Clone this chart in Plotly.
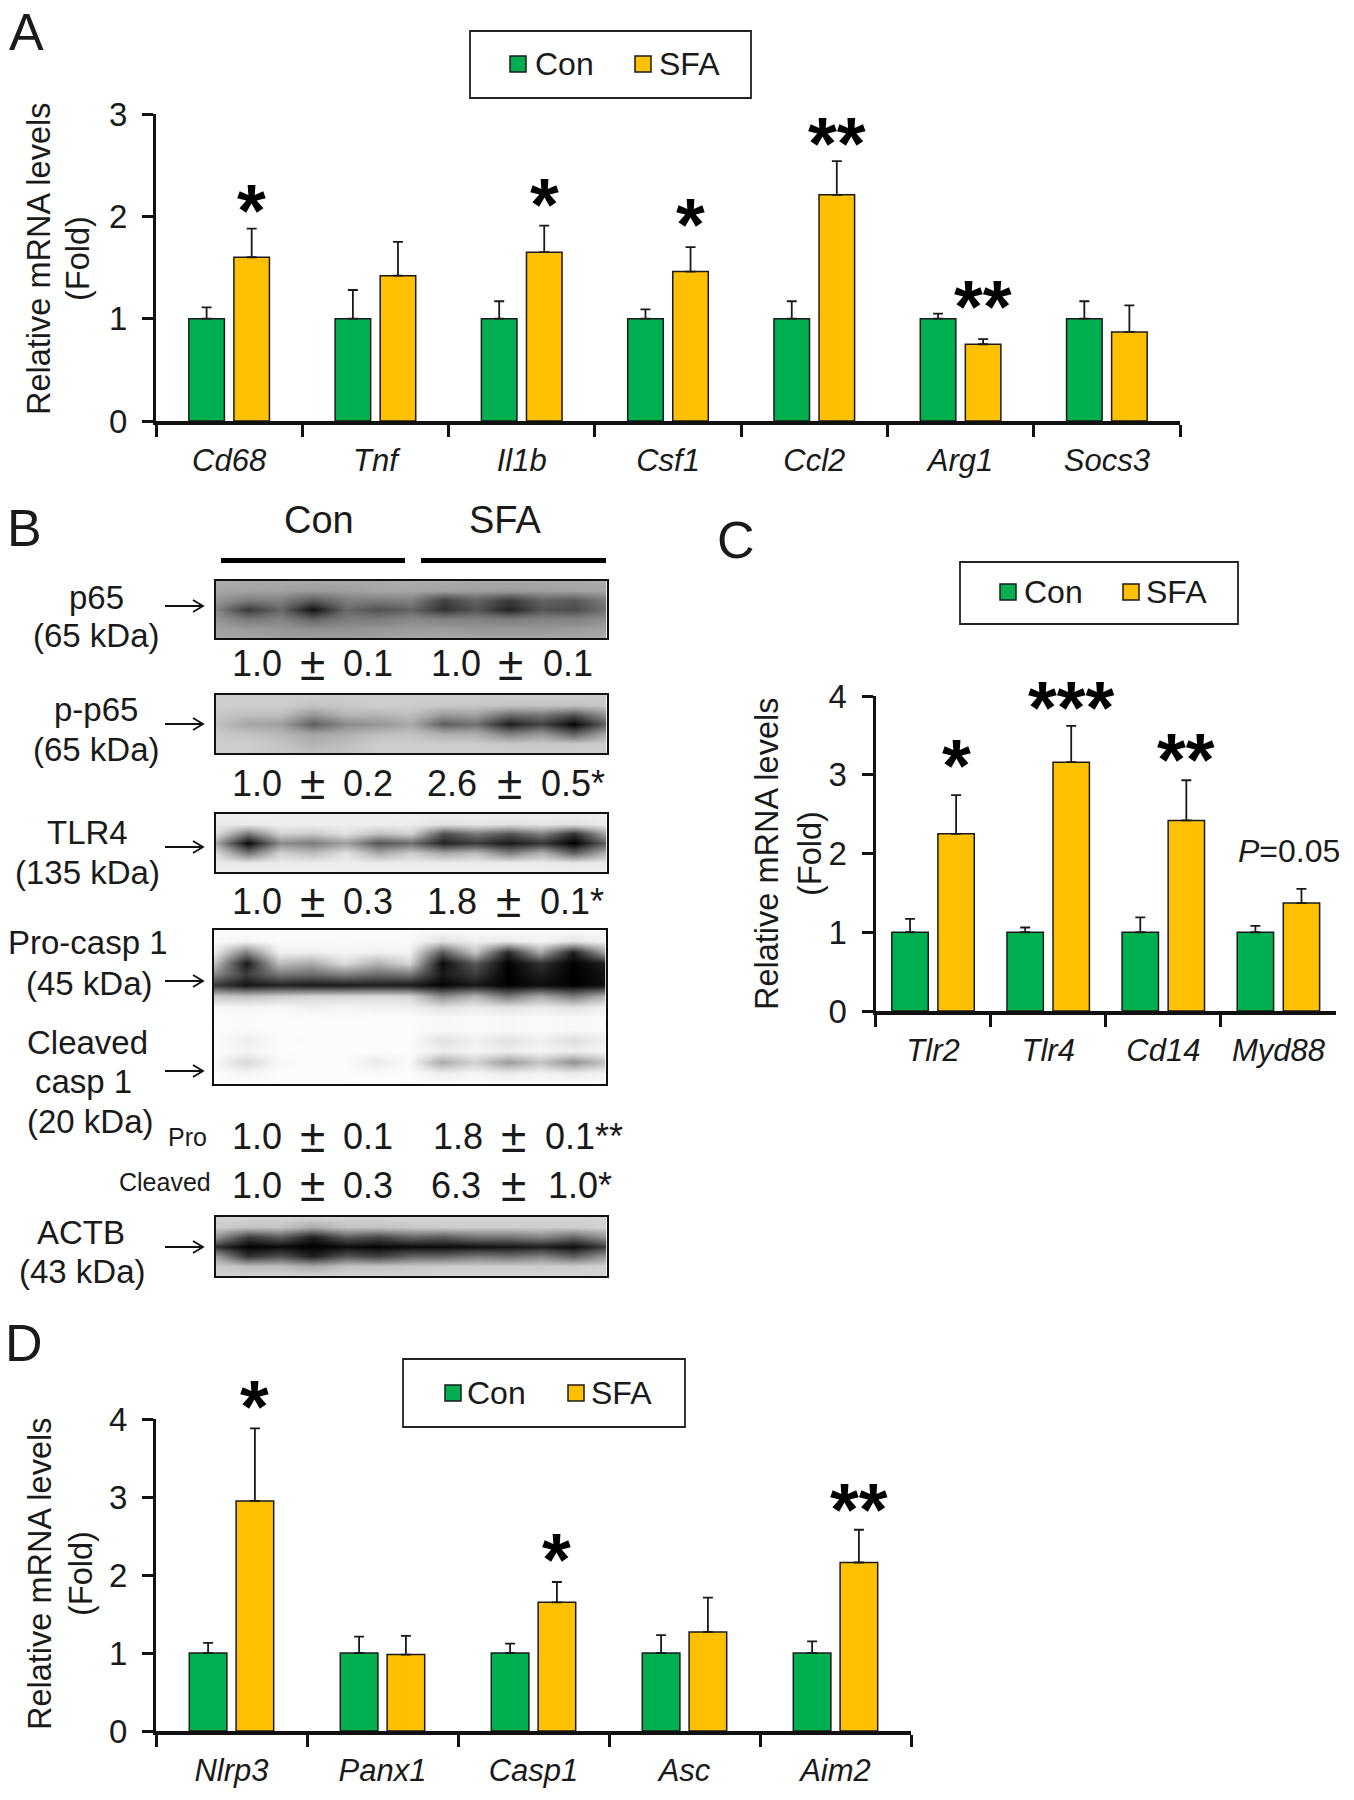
import plotly.graph_objects as go

W, H = 1354, 1800
FONT = "Liberation Sans"
TXT = "#1a1a1a"
GREEN, GOLD = "#00B050", "#FFC000"

# ---------- Panel A ----------
A_genes = ["Cd68", "Tnf", "Il1b", "Csf1", "Ccl2", "Arg1", "Socs3"]
A_con = [1, 1, 1, 1, 1, 1, 1]
A_sfa = [1.60, 1.42, 1.65, 1.46, 2.21, 0.75, 0.87]
A_con_err = [0.11, 0.28, 0.17, 0.09, 0.17, 0.05, 0.17]
A_sfa_err = [0.28, 0.33, 0.26, 0.24, 0.33, 0.05, 0.26]
A_sig = ["*", "", "*", "*", "**", "**", ""]
A_sig_y = [2.16, 0, 2.22, 2.03, 2.82, 1.23, 0]

# ---------- Panel C ----------
C_genes = ["Tlr2", "Tlr4", "Cd14", "Myd88"]
C_con = [1, 1, 1, 1]
C_sfa = [2.25, 3.16, 2.42, 1.37]
C_con_err = [0.17, 0.06, 0.19, 0.08]
C_sfa_err = [0.49, 0.46, 0.51, 0.18]
C_sig = ["*", "***", "**", ""]
C_sig_y = [3.26, 4.0, 3.33, 0]

# ---------- Panel D ----------
D_genes = ["Nlrp3", "Panx1", "Casp1", "Asc", "Aim2"]
D_con = [1, 1, 1, 1, 1]
D_sfa = [2.95, 0.98, 1.65, 1.27, 2.16]
D_con_err = [0.13, 0.21, 0.12, 0.23, 0.15]
D_sfa_err = [0.93, 0.24, 0.26, 0.44, 0.42]
D_sig = ["*", "", "*", "", "**"]
D_sig_y = [4.30, 0, 2.34, 0, 2.98]

# ---------- Panel B: blot grey levels (13 columns = 6 lanes + gaps) ----------
BLOT_P65 = [
    [172, 170, 170, 168, 168, 170, 172, 172, 170, 170, 170, 170, 172],
    [165, 162, 160, 155, 158, 165, 165, 160, 158, 155, 158, 162, 165],
    [150, 125, 130, 90, 125, 125, 130, 65, 100, 60, 100, 90, 125],
    [135, 55, 105, 15, 105, 80, 100, 50, 85, 35, 85, 75, 115],
    [150, 120, 130, 100, 125, 125, 135, 130, 130, 125, 130, 130, 140],
    [160, 155, 150, 145, 145, 150, 155, 155, 150, 150, 150, 155, 160],
    [168, 165, 160, 158, 158, 160, 165, 168, 165, 165, 165, 168, 170],
]
BLOT_PP65 = [
    [205, 205, 205, 205, 205, 205, 205, 205, 205, 205, 205, 205, 205],
    [205, 205, 205, 195, 200, 205, 205, 200, 200, 195, 195, 195, 200],
    [200, 190, 190, 150, 180, 180, 190, 155, 160, 110, 120, 85, 150],
    [195, 165, 160, 95, 140, 150, 170, 95, 115, 30, 70, 5, 100],
    [200, 195, 185, 165, 175, 190, 195, 175, 175, 130, 155, 100, 170],
    [205, 205, 195, 180, 190, 205, 205, 205, 205, 200, 200, 200, 205],
    [205, 205, 200, 190, 195, 205, 205, 205, 205, 205, 205, 205, 205],
]
BLOT_TLR4 = [
    [238, 238, 238, 238, 238, 238, 238, 238, 238, 238, 238, 238, 238],
    [235, 235, 238, 238, 238, 238, 236, 225, 230, 225, 230, 225, 235],
    [225, 120, 210, 200, 225, 190, 210, 80, 120, 85, 130, 50, 170],
    [170, 10, 140, 125, 160, 85, 110, 35, 60, 25, 55, 0, 100],
    [220, 120, 210, 190, 225, 170, 205, 170, 190, 130, 180, 100, 180],
    [235, 230, 235, 235, 238, 235, 235, 235, 235, 235, 235, 230, 235],
    [238, 238, 238, 238, 238, 238, 238, 238, 238, 238, 238, 238, 238],
]
BLOT_CASP = [
    [250, 250, 250, 250, 250, 250, 250, 250, 250, 250, 250, 250, 250],
    [250, 245, 250, 250, 250, 250, 250, 225, 240, 235, 245, 230, 245],
    [240, 130, 240, 240, 245, 240, 245, 90, 200, 40, 170, 30, 170],
    [200, 25, 190, 170, 220, 180, 215, 10, 90, 0, 50, 0, 30],
    [140, 60, 120, 110, 130, 110, 120, 25, 60, 0, 30, 0, 20],
    [60, 20, 35, 25, 25, 30, 25, 5, 25, 0, 15, 0, 15],
    [200, 195, 205, 215, 215, 220, 215, 140, 180, 120, 170, 125, 180],
    [248, 245, 248, 240, 245, 240, 240, 225, 235, 225, 235, 225, 240],
    [252, 250, 252, 252, 252, 252, 252, 248, 250, 248, 250, 248, 250],
    [252, 250, 252, 252, 252, 252, 252, 248, 250, 248, 250, 248, 250],
    [252, 238, 250, 252, 252, 252, 252, 225, 240, 225, 240, 222, 240],
    [252, 245, 252, 252, 252, 252, 252, 238, 245, 238, 245, 238, 245],
    [250, 215, 248, 252, 252, 235, 250, 170, 210, 155, 195, 145, 195],
    [252, 245, 252, 252, 252, 250, 252, 238, 245, 235, 242, 235, 245],
    [253, 253, 253, 253, 253, 253, 253, 253, 253, 253, 253, 253, 253],
]
BLOT_ACTB = [
    [212, 212, 212, 212, 212, 212, 212, 212, 212, 212, 212, 212, 212],
    [205, 195, 195, 170, 195, 195, 200, 205, 205, 205, 205, 205, 210],
    [150, 60, 90, 30, 90, 70, 100, 90, 115, 115, 130, 100, 150],
    [50, 0, 10, 0, 10, 5, 10, 10, 15, 20, 30, 12, 60],
    [160, 50, 80, 30, 85, 65, 100, 100, 120, 110, 130, 95, 150],
    [205, 190, 190, 170, 195, 195, 200, 205, 205, 205, 205, 205, 210],
    [212, 212, 212, 212, 212, 212, 212, 212, 212, 212, 212, 212, 212],
]

B_rows = [
    ["1.0", "0.1", "1.0", "0.1"],
    ["1.0", "0.2", "2.6", "0.5*"],
    ["1.0", "0.3", "1.8", "0.1*"],
    ["1.0", "0.1", "1.8", "0.1**"],
    ["1.0", "0.3", "6.3", "1.0*"],
]
B_row_px = [664, 783, 901, 1136, 1185]
B_sfa_mean_px = [456, 452, 452, 458, 456]
B_sfa_pm_px = [511, 509, 508, 513, 513]
B_sfa_err_px = [541, 539, 538, 543, 546]
B_labels = ["p65", "(65 kDa)", "p-p65", "(65 kDa)", "TLR4", "(135 kDa)", "Pro-casp 1",
            "(45 kDa)", "Cleaved", "casp 1", "(20 kDa)", "ACTB", "(43 kDa)"]
B_label_x = [96, 96, 96, 96, 87, 87, 88, 89, 87, 83, 90, 81, 82]
B_label_y = [597, 636, 710, 749, 833, 872, 943, 983, 1042, 1081, 1121, 1232, 1271]
B_arrow_y = [606, 724, 847, 981, 1071, 1247]


def X(p):
    return p / W


def Y(p):
    return 1 - p / H


fig = go.Figure()
annots, shapes = [], []


def text(s, x, y, size=31, **kw):
    annots.append(dict(text=s, x=X(x), y=Y(y), xref="paper", yref="paper", showarrow=False,
                       font=dict(family=FONT, size=size, color=TXT),
                       xanchor=kw.pop("xanchor", "center"), yanchor="middle", **kw))


def bar_panel(idx, genes, con, sfa, con_err, sfa_err, sig, sig_y, xdom, ydom, ymax,
              bar_w, sep, title_px):
    sx = "" if idx == 1 else str(idx)
    xa, ya = "x" + sx, "y" + sx
    series = [("Con", con, con_err, GREEN, -sep), ("SFA", sfa, sfa_err, GOLD, sep)]
    for name, vals, errs, col, centre in series:
        fig.add_trace(go.Bar(
            name=name, x=genes, y=vals, xaxis=xa, yaxis=ya, showlegend=False,
            width=bar_w, offset=centre - bar_w / 2,
            marker=dict(color=col, line=dict(color="#1a1a1a", width=1.5)),
            error_y=dict(type="data", symmetric=False, array=errs, arrayminus=[0] * len(errs),
                         color="#1a1a1a", thickness=1.8, width=5),
        ))
    fig.layout["xaxis" + sx] = dict(
        domain=[X(xdom[0]), X(xdom[1])], anchor=ya, type="category", categoryorder="array",
        categoryarray=genes, range=[-0.5, len(genes) - 0.5], tickson="boundaries", ticks="outside",
        ticklen=12, tickwidth=2.5, tickcolor="#111", showline=True, linecolor="#111", linewidth=4,
        showgrid=False, zeroline=False,
        tickfont=dict(family=FONT, size=31, color=TXT, style="italic"), ticklabelstandoff=9)
    fig.layout["yaxis" + sx] = dict(
        domain=[Y(ydom[1]), Y(ydom[0])], anchor=xa, range=[0, ymax], tickmode="array",
        tickvals=list(range(ymax + 1)), ticks="outside", ticklen=11, tickwidth=3, tickcolor="#111",
        showline=True, linecolor="#111", linewidth=3, showgrid=False, zeroline=False,
        tickfont=dict(family=FONT, size=33, color=TXT), ticklabelstandoff=8)
    for i, (s, yv) in enumerate(zip(sig, sig_y)):
        if s:
            annots.append(dict(text="<b>" + s + "</b>", x=i + sep, xref=xa,
                               y=Y(ydom[1] - yv / ymax * (ydom[1] - ydom[0])), yref="paper",
                               showarrow=False, yanchor="middle", yshift=-11,
                               font=dict(family=FONT, size=74, color="#000")))
    text("Relative mRNA levels", title_px[0], title_px[2], size=32.5, textangle=-90)
    text("(Fold)", title_px[1], title_px[2], size=32.5, textangle=-90)


def legend_box(x0, x1, y0, y1, ym, con_sw, con_txt, sfa_sw, sfa_txt):
    shapes.append(dict(type="rect", xref="paper", yref="paper", x0=X(x0), x1=X(x1), y0=Y(y0), y1=Y(y1),
                       line=dict(color="#222", width=1.8), fillcolor="rgba(0,0,0,0)"))
    for name, col, sw, tx in [("Con", GREEN, con_sw, con_txt), ("SFA", GOLD, sfa_sw, sfa_txt)]:
        shapes.append(dict(type="rect", xref="paper", yref="paper", x0=X(sw - 8), x1=X(sw + 8),
                           y0=Y(ym - 8), y1=Y(ym + 8), fillcolor=col, line=dict(color="#1a1a1a", width=1.5)))
        text(name, tx, ym, size=32, xanchor="left")


bar_panel(1, A_genes, A_con, A_sfa, A_con_err, A_sfa_err, A_sig, A_sig_y, (156, 1180), (114, 421), 3,
          0.243, 0.154, (39, 78, 259))
bar_panel(2, C_genes, C_con, C_sfa, C_con_err, C_sfa_err, C_sig, C_sig_y, (875.5, 1336), (696, 1011), 4,
          0.316, 0.2, (767, 810, 854))
bar_panel(3, D_genes, D_con, D_sfa, D_con_err, D_sfa_err, D_sig, D_sig_y, (156, 911), (1419, 1731), 4,
          0.249, 0.155, (40, 81, 1574))

legend_box(470, 751, 31, 98, 64, 518, 533, 643, 657)
legend_box(960, 1238, 562, 624, 592, 1008, 1022, 1131, 1144)
legend_box(403, 685, 1359, 1427, 1393, 453, 465, 576, 589)

# P value label over Myd88
annots.append(dict(text="<i>P</i>=0.05", x=3.09, y=2.03, xref="x2", yref="y2", showarrow=False, yanchor="middle",
                   font=dict(family=FONT, size=32, color=TXT)))


# ---------- Panel B blots ----------
def blot(idx, z, x0, x1, y0, y1):
    sx = str(idx)
    fig.add_trace(go.Heatmap(z=z, xaxis="x" + sx, yaxis="y" + sx, zmin=0, zmax=255, zsmooth="best",
                             colorscale=[[0, "#000000"], [1, "#ffffff"]], showscale=False, hoverinfo="skip"))
    common = dict(showticklabels=False, ticks="", showgrid=False, zeroline=False, showline=True,
                  mirror=True, linecolor="#111", linewidth=1.5)
    fig.layout["xaxis" + sx] = dict(domain=[X(x0), X(x1)], anchor="y" + sx, range=[0, 12], **common)
    fig.layout["yaxis" + sx] = dict(domain=[Y(y1), Y(y0)], anchor="x" + sx, range=[len(z) - 1, 0], **common)


blot(4, BLOT_P65, 215.5, 606.5, 581, 638)
blot(5, BLOT_PP65, 215.5, 606.5, 695, 753)
blot(6, BLOT_TLR4, 215.5, 606.5, 814, 872)
blot(7, BLOT_CASP, 213.5, 605.5, 929.5, 1084)
blot(8, BLOT_ACTB, 215.5, 606.5, 1217, 1276)

for x0, x1 in [(221, 405), (421, 606)]:
    shapes.append(dict(type="rect", xref="paper", yref="paper", x0=X(x0), x1=X(x1), y0=Y(558), y1=Y(563),
                       fillcolor="#000", line=dict(width=0)))
text("Con", 319, 520, size=38)
text("SFA", 505, 520, size=38)

for s, x, y in zip(B_labels, B_label_x, B_label_y):
    text(s, x, y, size=33)

for y in B_arrow_y:
    path = "M%f,%f L%f,%f M%f,%f L%f,%f L%f,%f" % (X(165), Y(y), X(203), Y(y), X(193), Y(y - 6), X(203), Y(y),
                                                   X(193), Y(y + 6))
    shapes.append(dict(type="path", path=path, xref="paper", yref="paper", line=dict(color="#111", width=1.8)))

for row, py, m, pm, e in zip(B_rows, B_row_px, B_sfa_mean_px, B_sfa_pm_px, B_sfa_err_px):
    text(row[0], 257, py, size=36)
    text("±", 312, py, size=46)
    text(row[1], 368, py, size=36)
    text(row[2], m, py, size=36)
    text("±", pm, py, size=46)
    text(row[3], e, py, size=36, xanchor="left")

text("Pro", 187, 1137, size=25)
text("Cleaved", 165, 1182, size=25)

# panel letters
for s, x, y in [("A", 26, 32), ("B", 24, 528), ("C", 736, 540), ("D", 24, 1343)]:
    text(s, x, y, size=52)

fig.update_layout(
    width=W, height=H, autosize=False,
    margin=dict(l=0, r=0, t=0, b=0, pad=0, autoexpand=False), paper_bgcolor="white",
    plot_bgcolor="rgba(0,0,0,0)", barmode="overlay", showlegend=False,
    annotations=annots, shapes=shapes, font=dict(family=FONT, color=TXT))

fig.write_html("out.html", config={"displayModeBar": False}, post_script="document.body.style.margin='0';")
